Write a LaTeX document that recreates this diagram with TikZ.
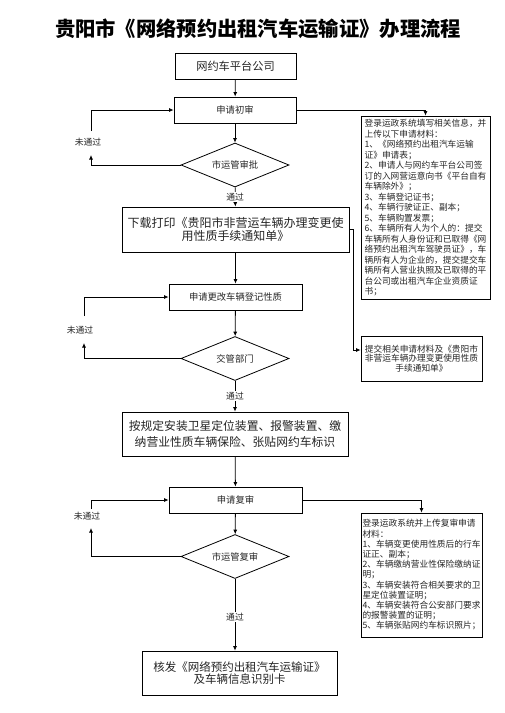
\documentclass[tikz,border=0pt]{standalone}
\usepackage{fontspec}
\setmainfont{Noto Sans CJK SC}
\usetikzlibrary{arrows.meta,shapes.geometric}
\tikzset{
  arr/.style={-{Latex[length=4.5pt,width=4pt]}, line width=0.8pt},
  ln/.style={line width=0.8pt},
  boxs/.style={draw, line width=0.8pt, inner sep=0pt, text=black!85},
  dia/.style={draw, diamond, aspect=2.45, minimum width=108pt, minimum height=44pt, inner sep=0pt, line width=0.8pt, text=black!85, font=\fontsize{9.3}{11}\selectfont},
  small/.style={font=\fontsize{9.3}{11}\selectfont},
  lab/.style={font=\fontsize{8.8}{10}\selectfont, text=black!85, inner sep=1pt},
  note/.style={boxs, align=left, font=\fontsize{8.7}{10.5}\selectfont},
}
\begin{document}
\begin{tikzpicture}[x=1pt,y=-1pt]
\useasboundingbox[fill=white] (0,0) rectangle (504,713);
\node[font=\fontsize{20.3}{24}\selectfont\bfseries] (title) at (258,29) {贵阳市《网络预约出租汽车运输证》办理流程};

\node[boxs, minimum width=121pt, minimum height=26pt, font=\fontsize{11.2}{13}\selectfont] (b1) at (235.5,66) {网约车平台公司};
\node[boxs, small, minimum width=122pt, minimum height=26pt] (b2) at (235,110) {申请初审};
\node[dia] (d1) at (235,165) {市运管审批};
\node[boxs, align=center, minimum width=227pt, minimum height=45pt, font=\fontsize{12}{13}\selectfont] (b3) at (235.5,229.5) {下载打印《贵阳市非营运车辆办理变更使\\用性质手续通知单》};
\node[boxs, small, minimum width=133pt, minimum height=26pt] (b4) at (235.5,297) {申请更改车辆登记性质};
\node[dia] (d2) at (235,358.5) {交管部门};
\node[boxs, align=center, minimum width=226pt, minimum height=44pt, font=\fontsize{11.8}{16.5}\selectfont] (b5) at (235,434) {按规定安装卫星定位装置、报警装置、缴\\纳营业性质车辆保险、张贴网约车标识};
\node[boxs, small, minimum width=133pt, minimum height=26pt] (b6) at (235.5,500) {申请复审};
\node[dia] (d3) at (235,556.5) {市运管复审};
\node[boxs, align=center, minimum width=195pt, minimum height=44pt, font=\fontsize{11.5}{12.8}\selectfont] (b7) at (239.5,673) {核发《网络预约出租汽车运输证》\\及车辆信息识别卡};

\node[note, minimum width=129pt, minimum height=183pt] (r1) at (425.5,207.5) {登录运政系统填写相关信息，并\\上传以下申请材料：\\1、《网络预约出租汽车运输\\证》申请表；\\2、申请人与网约车平台公司签\\订的入网营运意向书《平台自有\\车辆除外》；\\3、车辆登记证书；\\4、车辆行驶证正、副本；\\5、车辆购置发票；\\6、车辆所有人为个人的：提交\\车辆所有人身份证和已取得《网\\络预约出租汽车驾驶员证》，车\\辆所有人为企业的，提交提交车\\辆所有人营业执照及已取得的平\\台公司或出租汽车企业资质证\\书；};
\node[boxs, align=center, minimum width=121pt, minimum height=45pt, font=\fontsize{8.7}{9.8}\selectfont] (r2) at (421.5,358.5) {提交相关申请材料及《贵阳市\\非营运车辆办理变更使用性质\\手续通知单》};
\node[note, minimum width=121pt, minimum height=124pt, font=\fontsize{8.7}{10.2}\selectfont] (r3) at (421.5,575) {登录运政系统并上传复审申请\\材料：\\1、车辆变更使用性质后的行车\\证正、副本；\\2、车辆缴纳营业性保险缴纳证\\明；\\3、车辆安装符合相关要求的卫\\星定位装置证明；\\4、车辆安装符合公安部门要求\\的报警装置的证明；\\5、车辆张贴网约车标识照片；};

% main flow
\draw[arr] (b1) -- (b2);
\draw[arr] (b2) -- (d1);
\draw[arr] (d1) -- node[lab, fill=white] {通过} (b3);
\draw[arr] (b3) -- (b4);
\draw[arr] (b4) -- (d2);
\draw[arr] (d2) -- node[lab, fill=white] {通过} (b5);
\draw[arr] (b5) -- (b6);
\draw[arr] (b6) -- (d3);
\draw[arr] (d3.south) -- node[lab, fill=white, pos=0.53] {通过} (d3.south |- b7.north);

% side boxes
\draw[arr] (b2.east) -| (r1.north);
\coordinate (k1) at (353,350);
\draw[arr] (b3.east) -| (k1) -- (k1 -| r2.west);
\draw[arr] (b6.east) -| (r3.north);

% loops
\coordinate (l1a) at (91,155);
\coordinate (l1b) at (91,131);
\node[lab] (n1) at (88,142) {未通过};
\draw[arr] (d1.west) -| (l1a);
\draw[arr] (l1b) |- (b2.west);

\coordinate (l2a) at (84,343);
\coordinate (l2b) at (84,316);
\node[lab] (n2) at (80,330) {未通过};
\draw[arr] (d2.west) -| (l2a);
\draw[arr] (l2b) |- (b4.west);

\coordinate (l3a) at (91,528);
\coordinate (l3b) at (91,509);
\node[lab] (n3) at (87,516) {未通过};
\draw[arr] (d3.west) -| (l3a);
\draw[arr] (l3b) |- (b6.west);
\end{tikzpicture}
\end{document}
